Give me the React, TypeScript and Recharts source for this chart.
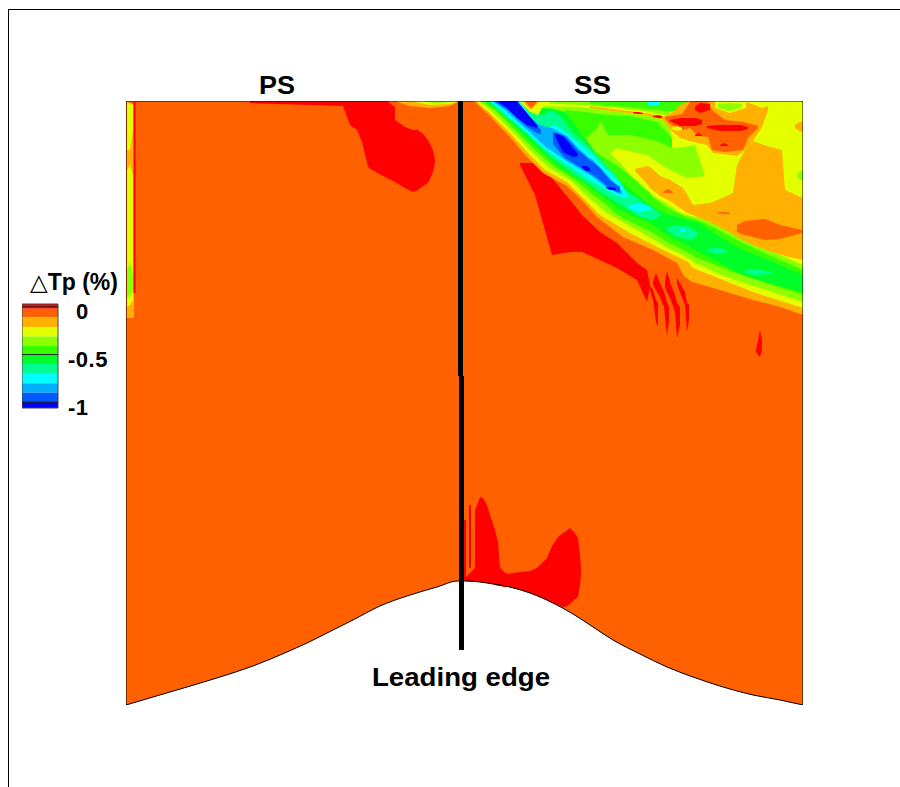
import { ComposedChart, Area, Line, XAxis, YAxis, ReferenceLine, ReferenceArea } from 'recharts';

type Row = [number, number, number];

const RED = '#ff0000';
const ORANGE = '#ff6000';
const AMBER = '#ffb000';
const YELLOW = '#e4ff00';
const LIME = '#8cff00';
const GREEN1 = '#38ff00';
const GREEN2 = '#00ff28';
const SPRING = '#00ff90';
const CYAN = '#00ffff';
const SKY = '#00b0ff';
const BLUE = '#0058ff';
const DARK = '#0000ff';

// contour bands as [x, upper edge, lower edge]
const hub: [number, number][] = [[126, 705], [153, 697], [187, 687], [220, 677], [253, 666], [287, 652], [307, 643], [333, 630], [353, 620], [380, 606], [407, 596], [437, 587], [458, 581], [467, 581], [487, 583], [510, 587], [530, 593], [553, 603], [573, 614], [593, 627], [613, 640], [640, 654], [667, 667], [693, 677], [723, 687], [753, 695], [780, 700], [803, 705]];
const box: [number, number][] = [[126, 705], [126, 101], [803, 101], [803, 705]];
const leUpper: [number, number][] = [[460.5, 100], [460.5, 376]];
const leLower: [number, number][] = [[461.5, 376], [461.5, 650]];

const psBlob: Row[] = [[250, 101, 103], [343, 101, 106], [350, 101, 125], [357, 101, 130], [362, 101, 142], [368, 101, 167], [372, 101, 170], [387, 101, 178], [395, 107, 182], [395, 120, 182], [405, 127, 188], [413, 130, 192], [418, 130, 190], [423, 134, 186], [428, 140, 183], [433, 150, 172], [435, 160, 162]];
const psTopAmber: Row[] = [[397, 101, 102], [410, 101, 106], [430, 101, 108], [450, 101, 106], [458, 101, 102]];
const psTopYellow: Row[] = [[415, 101, 102], [430, 101, 105], [450, 101, 104], [456, 101, 102]];
const psTopLime: Row[] = [[425, 101, 102], [440, 101, 103], [452, 101, 102]];
const edgeAmber: Row[] = [[127, 101, 318], [134, 105, 318]];
const edgeYellow: Row[] = [[127, 103, 150], [130, 103, 150], [133, 105, 130]];
const edgeYellow2: Row[] = [[127, 170, 307], [130, 165, 305], [133, 175, 300]];
const edgeLime: Row[] = [[127, 270, 298], [130, 262, 296], [133, 275, 290]];
const edgeRed: Row[] = [[133.5, 102, 293], [135.5, 102, 293]];

const ssRed: Row[] = [[520, 163, 165], [535, 163, 195], [552, 178, 255], [570, 200, 252], [582, 215, 252], [600, 232, 260], [617, 243, 268], [637, 263, 280], [647, 270, 302], [650, 285, 287]];
const streak1: Row[] = [[649, 284, 287], [653, 290, 300], [656, 300, 322], [658, 303, 327]];
const streak2: Row[] = [[653, 282, 285], [656, 273, 290], [660, 283, 297], [664, 292, 307], [667, 302, 336], [669, 307, 320]];
const streak3: Row[] = [[665, 282, 287], [667, 271, 292], [671, 285, 300], [675, 295, 312], [677, 303, 338], [680, 307, 325]];
const streak4: Row[] = [[677, 278, 284], [681, 285, 295], [685, 292, 305], [687, 303, 332], [689, 305, 320]];
const spot: Row[] = [[756, 350, 352], [758, 340, 355], [760, 330, 357], [762, 340, 350]];

const hubRed: Row[] = [[475, 510, 582], [477, 505, 582], [480, 497, 582], [483, 498, 582], [487, 505, 583], [491, 518, 584], [495, 530, 585], [498, 542, 586], [499, 555, 586], [500, 567, 586], [504, 572, 587], [508, 574, 587], [520, 572, 590], [530, 571, 593], [537, 568, 596], [542, 563, 598], [547, 558, 600], [552, 546, 603], [558, 537, 605], [563, 533, 607], [565, 532, 607], [570, 528, 604], [574, 532, 600], [578, 538, 597], [580, 555, 585], [581, 570, 575]];
const hubFoot: Row[] = [[465, 578, 581], [475, 568, 582]];
const hubStreak1: Row[] = [[464, 520, 580], [466, 520, 580]];
const hubStreak2: Row[] = [[469, 505, 568], [471, 505, 568]];

const amberAll: Row[] = [[472, 101, 101], [475, 101, 102], [490, 101, 116], [510, 101, 137], [527, 101, 157], [543, 101, 173], [567, 101, 186], [582, 101, 200], [597, 101, 217], [623, 101, 237], [653, 101, 250], [677, 101, 263], [684, 101, 276], [692, 101, 282], [720, 101, 290], [753, 101, 300], [780, 101, 307], [803, 101, 315]];
const yellowAll: Row[] = [[476, 101, 101], [490, 101, 113], [510, 101, 133], [527, 101, 152], [545, 101, 170], [567, 101, 182], [585, 101, 200], [600, 101, 215], [630, 101, 233], [657, 101, 247], [680, 101, 258], [688, 101, 262], [693, 101, 268], [723, 101, 280], [753, 101, 292], [803, 101, 308]];
const limeAll: Row[] = [[479, 101, 101], [490, 101, 110], [510, 101, 129], [530, 101, 150], [548, 101, 167], [570, 101, 180], [592, 101, 200], [607, 101, 213], [637, 101, 230], [663, 101, 245], [668, 101, 248], [672, 148, 250], [683, 147, 255], [695, 145, 263], [705, 176, 267], [705, 219, 267], [717, 223, 273], [727, 228, 277], [747, 240, 284], [760, 246, 288], [803, 265, 302]];
const yellowPocket: Row[] = [[610, 153, 153], [617, 148, 160], [620, 149, 163], [633, 152, 178], [647, 155, 191], [653, 159, 196], [667, 168, 204], [680, 175, 213], [687, 178, 215], [705, 176, 219]];
const amberPocket: Row[] = [[635, 169, 171], [647, 166, 184], [650, 167, 188], [660, 176, 196], [670, 180, 201], [683, 188, 210], [687, 194, 213], [693, 205, 215], [710, 203, 222], [720, 199, 227], [733, 193, 234], [737, 165, 237], [745, 150, 241], [753, 141, 245], [767, 146, 250], [782, 150, 255], [783, 165, 255], [785, 190, 256], [803, 198, 260]];
const orangeIsland: Row[] = [[737, 225, 232], [745, 221, 235], [765, 219, 240], [780, 225, 239], [802, 230, 233]];
const orangeBit1: Row[] = [[663, 192, 193], [668, 189, 193], [673, 192, 193]];
const orangeBit2: Row[] = [[718, 212, 213], [724, 212, 214], [730, 213, 214]];
const green1Core: Row[] = [[481, 101, 101], [495, 101, 110], [515, 101, 130], [535, 108, 150], [553, 110, 166], [575, 119, 180], [587, 140, 190], [593, 151, 195], [600, 155, 200], [610, 161, 208], [613, 163, 212], [623, 170, 218], [637, 181, 225], [643, 187, 228], [650, 193, 231], [653, 197, 233], [667, 208, 242], [687, 217, 252], [697, 220, 258], [713, 227, 264], [733, 238, 272], [743, 243, 275], [767, 254, 283], [803, 270, 295]];
const green1Pocket: Row[] = [[565, 110, 122], [587, 112, 138], [597, 114, 128], [600, 114, 121], [608, 115, 135], [630, 116, 135], [657, 122, 141], [672, 138, 148]];
const green2Core: Row[] = [[484, 101, 101], [498, 101, 110], [518, 101, 129], [525, 101, 136], [538, 105, 148], [557, 110, 165], [565, 112, 170], [575, 125, 177], [580, 132, 180], [590, 145, 187], [607, 167, 200], [620, 181, 210], [625, 185, 212], [643, 200, 220], [650, 205, 223], [663, 213, 232], [670, 215, 237], [690, 221, 247], [697, 222, 251], [720, 237, 263], [733, 245, 270], [745, 251, 276], [775, 263, 285], [803, 275, 292]];
const springCore: Row[] = [[489, 101, 101], [500, 101, 112], [520, 101, 128], [524, 101, 132], [530, 112, 137], [543, 115, 150], [553, 110, 159], [562, 118, 165], [572, 132, 173], [585, 143, 181], [600, 158, 192], [615, 174, 201], [625, 190, 207], [640, 200, 217], [652, 208, 220], [660, 213, 216]];
const springA: Row[] = [[667, 228, 230], [675, 225, 236], [690, 227, 240], [697, 232, 236]];
const springB: Row[] = [[707, 249, 251], [717, 247, 254], [728, 251, 252]];
const springC: Row[] = [[743, 271, 272], [755, 269, 275], [772, 272, 274]];
const cyanCore: Row[] = [[490, 101, 101], [503, 101, 112], [520, 101, 127], [527, 112, 133], [535, 122, 140], [545, 128, 149], [555, 125, 156], [563, 130, 162], [575, 140, 170], [590, 152, 180], [605, 168, 189], [620, 182, 197], [628, 195, 198]];
const cyanA: Row[] = [[628, 206, 208], [640, 203, 212], [652, 207, 209]];
const cyanB: Row[] = [[680, 230, 231], [683, 228, 232], [685, 230, 231]];
const skyCore: Row[] = [[492, 101, 101], [505, 101, 110], [517, 101, 121], [525, 112, 128], [530, 118, 132], [540, 125, 142], [547, 127, 148], [552, 128, 151], [565, 135, 160], [568, 137, 162], [578, 148, 168], [588, 157, 174], [593, 160, 177], [607, 175, 188], [622, 191, 195]];
const blueTop: Row[] = [[494, 101, 101], [508, 101, 110], [515, 101, 116], [527, 115, 127], [537, 125, 133], [541, 130, 134]];
const blueCore: Row[] = [[553, 132, 144], [565, 136, 158], [578, 150, 166], [590, 160, 173], [600, 168, 180], [610, 180, 189], [620, 187, 193]];
const darkTop: Row[] = [[497, 101, 101], [507, 101, 108], [517, 101, 118], [527, 113, 125], [537, 125, 128]];
const darkCore: Row[] = [[555, 133, 136], [563, 136, 152], [573, 148, 157], [578, 154, 156]];
const darkC: Row[] = [[582, 166, 168], [586, 166, 171], [590, 168, 171]];
const darkD: Row[] = [[606, 187, 188], [610, 187, 190], [616, 188, 190]];

const topLime: Row[] = [[540, 101, 108], [600, 101, 110], [630, 101, 114], [668, 101, 118]];
const topYellowLine: Row[] = [[540, 103, 106], [580, 105, 107], [620, 108, 112], [650, 112, 116], [670, 116, 120]];
const topAmberLine: Row[] = [[590, 106, 108], [620, 110, 112], [645, 113, 115], [672, 118, 122]];
const topRed1: Row[] = [[633, 112, 113], [638, 112, 114], [643, 113, 114]];
const topRed2: Row[] = [[653, 116, 117], [658, 115, 118], [662, 116, 118]];
const topGreen: Row[] = [[590, 101, 104], [640, 101, 108], [665, 101, 111], [693, 101, 112], [700, 101, 103]];
const topCyan: Row[] = [[647, 102, 105], [655, 102, 106], [660, 102, 105]];
const spotYellow: Row[] = [[520, 101, 102], [530, 101, 112], [538, 101, 115], [542, 101, 108], [550, 101, 103]];
const spotAmber: Row[] = [[523, 101, 102], [531, 101, 110], [539, 101, 102]];
const spotOrange: Row[] = [[526, 101, 103], [531, 101, 108], [536, 101, 103]];
const centerAmber: Row[] = [[663, 117, 120], [673, 112, 132], [680, 105, 138], [690, 101, 141], [707, 101, 145], [713, 101, 153], [737, 101, 156], [745, 102, 150], [755, 105, 138], [762, 108, 127], [768, 106, 110]];
const centerOrange: Row[] = [[665, 117, 119], [670, 116, 124], [682, 114, 130], [690, 102, 128], [695, 101, 133], [700, 101, 136], [708, 101, 137], [712, 110, 150], [725, 120, 152], [743, 122, 150], [748, 123, 138], [758, 126, 128]];
const centerYellowHole: Row[] = [[672, 128, 129], [677, 126, 131], [682, 128, 130]];
const centerRedA: Row[] = [[670, 120, 121], [680, 118, 126], [695, 118, 126], [702, 120, 124]];
const centerRedB: Row[] = [[707, 126, 128], [720, 125, 131], [740, 125, 131], [748, 127, 129]];
const centerRedC: Row[] = [[695, 107, 110], [700, 103, 113], [710, 104, 110]];
const centerRedD: Row[] = [[720, 145, 146], [724, 143, 146], [728, 145, 146]];
const centerRedE: Row[] = [[695, 135, 136], [698, 133, 136], [702, 135, 136]];
const rightYellowRim: Row[] = [[715, 101, 108], [730, 101, 113], [746, 101, 108]];
const rightLimeA: Row[] = [[718, 104, 108], [730, 103, 111], [742, 104, 107]];
const rightLimeB: Row[] = [[797, 175, 177], [800, 171, 180], [803, 171, 180]];
const rightAmberBit: Row[] = [[795, 125, 128], [799, 122, 131], [803, 122, 132]];

// painter's order, each layer covers the ones before it
const layers: [string, Row[]][] = [
  [RED, psBlob], [AMBER, psTopAmber], [YELLOW, psTopYellow], [LIME, psTopLime],
  [AMBER, edgeAmber], [YELLOW, edgeYellow], [YELLOW, edgeYellow2], [LIME, edgeLime], [RED, edgeRed],
  [RED, ssRed], [RED, streak1], [RED, streak2], [RED, streak3], [RED, streak4], [RED, spot],
  [RED, hubRed], [RED, hubFoot], [RED, hubStreak1], [RED, hubStreak2],
  [AMBER, amberAll], [YELLOW, yellowAll], [LIME, limeAll], [YELLOW, yellowPocket], [AMBER, amberPocket],
  [ORANGE, orangeIsland], [ORANGE, orangeBit1], [ORANGE, orangeBit2],
  [GREEN1, green1Core], [GREEN1, green1Pocket], [GREEN2, green2Core],
  [SPRING, springCore], [SPRING, springA], [SPRING, springB], [SPRING, springC],
  [CYAN, cyanCore], [CYAN, cyanA], [CYAN, cyanB], [SKY, skyCore],
  [BLUE, blueTop], [BLUE, blueCore], [DARK, darkTop], [DARK, darkCore], [DARK, darkC], [DARK, darkD],
  [LIME, topLime], [GREEN1, topGreen], [CYAN, topCyan], [YELLOW, topYellowLine], [AMBER, topAmberLine],
  [RED, topRed1], [RED, topRed2],
  [YELLOW, spotYellow], [AMBER, spotAmber], [ORANGE, spotOrange],
  [AMBER, centerAmber], [ORANGE, centerOrange], [YELLOW, centerYellowHole],
  [RED, centerRedA], [RED, centerRedB], [RED, centerRedC], [RED, centerRedD], [RED, centerRedE],
  [YELLOW, rightYellowRim], [LIME, rightLimeA], [LIME, rightLimeB], [AMBER, rightAmberBit],
];

const levelColors = [RED, ORANGE, AMBER, YELLOW, LIME, GREEN1, GREEN2, SPRING, CYAN, SKY, BLUE, DARK];
const levelEdges = [0.03, -0.02, -0.11, -0.21, -0.31, -0.41, -0.5, -0.6, -0.7, -0.8, -0.9, -0.99, -1.06];
const legendTicks = [0, -0.5, -1];

const FONT = '"Liberation Sans", Arial, sans-serif';

const toBand = (rows: Row[]) => rows.map(([x, top, bottom]) => ({ x, band: [top, bottom] }));
const toPoints = (pts: [number, number][]) => pts.map(([x, y]) => ({ x, y }));

const LegendTick = (props: any) => {
  const v = props.payload.value;
  return (
    <text x={v === 0 ? 54 : 46} y={props.y + 12.5} letterSpacing={0.5} fontFamily={FONT} fontWeight="bold" fontSize={22} fill="#000">
      {String(v)}
    </text>
  );
};

export default function App() {
  return (
    <div style={{ position: 'absolute', left: 0, top: 0, width: 900, height: 787, background: '#fff', overflow: 'hidden' }}>
      <div style={{ position: 'absolute', left: 8, top: 9, right: -2, bottom: -2, borderLeft: '1px solid #000', borderTop: '1px solid #000' }} />
      <div style={{ position: 'absolute', left: 0, top: 0 }}>
        <ComposedChart width={900} height={787} margin={{ top: 101, left: 126, right: 97, bottom: 82 }}>
          <XAxis type="number" dataKey="x" domain={[126, 803]} hide allowDataOverflow />
          <YAxis type="number" domain={[101, 705]} reversed hide allowDataOverflow />
          <Area
            data={toBand(hub.map(([x, y]) => [x, 101, y] as Row))}
            dataKey="band"
            type="monotoneX"
            stroke="none"
            fill={ORANGE}
            fillOpacity={1}
            dot={false}
            activeDot={false}
            isAnimationActive={false}
          />
          {layers.map(([color, rows], i) => (
            <Area
              key={i}
              data={toBand(rows)}
              dataKey="band"
              type="linear"
              stroke="none"
              fill={color}
              fillOpacity={1}
              dot={false}
              activeDot={false}
              isAnimationActive={false}
            />
          ))}
          <Line data={toPoints(hub)} dataKey="y" type="monotoneX" stroke="#000" strokeWidth={1} dot={false} activeDot={false} isAnimationActive={false} />
          <Line data={toPoints(box)} dataKey="y" stroke="#000" strokeWidth={1} dot={false} activeDot={false} isAnimationActive={false} />
          <Line data={toPoints(leUpper)} dataKey="y" stroke="#000" strokeWidth={5} dot={false} activeDot={false} isAnimationActive={false} />
          <Line data={toPoints(leLower)} dataKey="y" stroke="#000" strokeWidth={5} dot={false} activeDot={false} isAnimationActive={false} />
          <text x={277} y={94} textAnchor="middle" textLength={36} lengthAdjust="spacingAndGlyphs" fontFamily={FONT} fontWeight="bold" fontSize={26} fill="#000">PS</text>
          <text x={592.5} y={94} textAnchor="middle" textLength={37} lengthAdjust="spacingAndGlyphs" fontFamily={FONT} fontWeight="bold" fontSize={26} fill="#000">SS</text>
          <text x={461} y={686} textAnchor="middle" textLength={178} lengthAdjust="spacingAndGlyphs" fontFamily={FONT} fontWeight="bold" fontSize={26} fill="#000">Leading edge</text>
          <text x={30} y={290} fontFamily={FONT} fontWeight="bold" fontSize={23} fill="#000">
            <tspan fontFamily="DejaVu Sans" fontWeight="normal">△</tspan>Tp (%)
          </text>
        </ComposedChart>
      </div>
      <div style={{ position: 'absolute', left: 22, top: 294 }}>
        <ComposedChart width={100} height={134} margin={{ top: 10, left: 0, right: 0, bottom: 20 }}>
          <XAxis type="number" dataKey="x" domain={[0, 1]} hide allowDataOverflow />
          <YAxis type="number" orientation="right" width={64} domain={[-1.06, 0.03]} ticks={legendTicks} tick={LegendTick} axisLine={false} tickLine={false} allowDataOverflow />
          {levelColors.map((color, i) => (
            <Area
              key={color}
              data={[
                { x: 0, band: [levelEdges[i + 1], levelEdges[i]] },
                { x: 1, band: [levelEdges[i + 1], levelEdges[i]] },
              ]}
              dataKey="band"
              type="linear"
              stroke="none"
              fill={color}
              fillOpacity={1}
              dot={false}
              activeDot={false}
              isAnimationActive={false}
            />
          ))}
          {legendTicks.map((t) => (
            <ReferenceLine key={t} y={t} stroke="#222" strokeWidth={1} />
          ))}
          <ReferenceArea x1={0} x2={1} y1={-1.06} y2={0.03} fill="none" stroke="#444" strokeWidth={1} />
        </ComposedChart>
      </div>
    </div>
  );
}
